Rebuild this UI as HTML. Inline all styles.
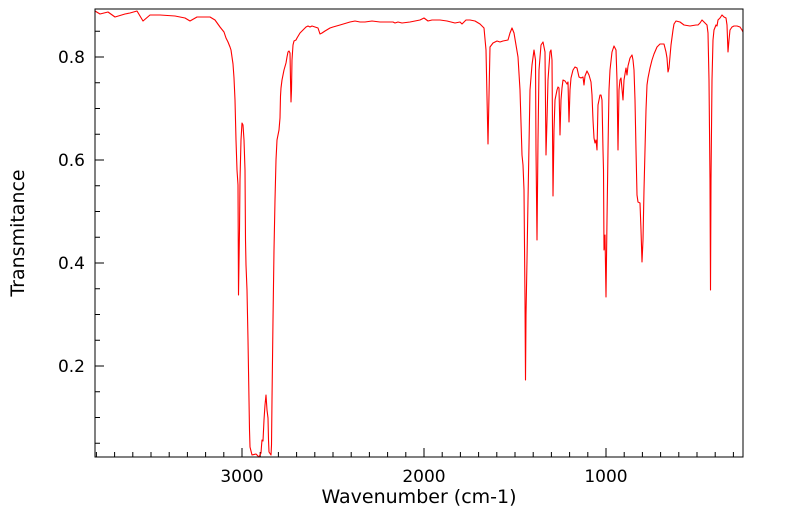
<!DOCTYPE html>
<html><head><meta charset="utf-8"><style>
html,body{margin:0;padding:0;background:#fff;}
svg{display:block;font-family:"DejaVu Sans","Liberation Sans",sans-serif;}
</style></head><body>
<svg width="799" height="516" viewBox="0 0 799 516" xmlns="http://www.w3.org/2000/svg">
<rect x="0" y="0" width="799" height="516" fill="#fff"/>
<g stroke="#000" stroke-width="1">
<path d="M96.4 457v-5M114.6 457v-5M132.8 457v-5M151 457v-5M169.2 457v-5M187.4 457v-5M205.6 457v-5M223.8 457v-5M242 457v-9M260.2 457v-5M278.4 457v-5M296.6 457v-5M314.8 457v-5M333 457v-5M351.2 457v-5M369.4 457v-5M387.6 457v-5M405.8 457v-5M424 457v-9M442.2 457v-5M460.4 457v-5M478.6 457v-5M496.8 457v-5M515 457v-5M533.2 457v-5M551.4 457v-5M569.6 457v-5M587.8 457v-5M606 457v-9M624.2 457v-5M642.4 457v-5M660.6 457v-5M678.8 457v-5M697 457v-5M715.2 457v-5M733.4 457v-5"/>
<path d="M95 443.3h5M95 417.5h5M95 391.8h5M95 366h9M95 340.3h5M95 314.5h5M95 288.8h5M95 263h9M95 237.3h5M95 211.5h5M95 185.8h5M95 160h9M95 134.3h5M95 108.5h5M95 82.8h5M95 57h9M95 31.3h5"/>
</g>
<polyline fill="none" stroke="#ff0000" stroke-width="1.1" stroke-linejoin="round" points="95,11 100,14 108,12 115,17 125,14 130,13 137,11 140,16 143,21 150,15 160,15 175,16 185,18 190,21 197,17 205,17 210,17 215,20 220,27 224,32 226,38 228,42 230,47 231,50 233,64 234,78 235,100 236,140 237,170 238,185 238.5,295 239.5,230 240,180 241,140 242,123 243,125 244,140 245,170 245.5,240 246,265 247,290 248,340 249,400 249.5,430 250,447 252,455 256,454 259,457 261,453 261.5,446 262,440 263,441 264,420 265,405 266,395 267,410 268,418 268.5,440 269,452 271,455 271.5,445 272,400 273,320 274,250 275,200 276,160 277,140 279,130 280,118 280.5,96 281,88 282,80 283,75 284,70 286,63 287,57 288,52 289,51 290,53 290.5,80 291,102 291.5,90 292,60 293,45 294,41 296,40 297,38 300,33 303,30 306,27 308,26 310,27 312,26 318,28 320,34 322,33 325,31 330,28 333,27 340,25 350,22 355,21 360,22 365,22 372,21 380,22 387,22 393,22 395,23 398,22 402,23 410,22 420,20 424,18 428,21 432,20 440,20 447,21 455,23 460,22 462,24 464,22 466,20 470,20 475,21 480,24 484,28 486,50 488,144 490,47 493,43 497,41 500,42 503,41 508,40 510,33 512,28 514,33 516,45 518,57 520,90 522,155 523,165 524,190 525,300 525.5,380 526,315 527,260 528,200 530,90 532,65 534,50 535.5,60 536,150 537,240 538,140 539,70 541,45 543,42 545,52 546,155 547,120 548,80 550,52 551,50 552,60 553,196 554,130 555,100 557,90 558,87 559,88 560,135 561,100 562,88 563,80 565,81 567,84 568,82 569,122 570,90 571,78 573,70 575,67 577,68 579,77 581,78 583,77 584,85 585,76 587,71 589,75 591,82 592,95 593,120 594,138 595,143 596,140 597,150 598,105 600,95 601,95 602,100 603,150 603.5,170 604,250 605,235 605.5,265 606,297 607,220 608,150 609,90 610,70 612,52 614,46 616,50 617,80 618,150 619,90 620,80 621,78 623,100 624,80 626,68 627,75 628,66 630,58 632,55 633,60 634,70 635,100 636,150 637,195 638,202 640,203 641,230 642,262 643,240 644,190 645,150 646,110 647,85 648,78 650,68 652,60 654,54 657,47 660,44 664,44 666,52 667,58 668,72 669,68 671,45 673,30 674,24 676,21 680,22 684,25 690,26 696,25 698,25 700,23 702,20 704,22 707,25 708,33 709,80 710,180 710.5,290 711,180 712,80 713,40 714,30 716,25 717,26 718,20 720,18 722,15 724,17 726,18 727,25 728,52 729,40 730,30 732,27 734,26 737,26 740,27 742,30 743,32"/>
<rect x="95" y="9" width="648" height="448" fill="none" stroke="#000" stroke-width="1"/>
<g font-size="17" fill="#000">
<text x="85" y="63" text-anchor="end">0.8</text>
<text x="85" y="166" text-anchor="end">0.6</text>
<text x="85" y="269" text-anchor="end">0.4</text>
<text x="85" y="372" text-anchor="end">0.2</text>
<text x="242" y="482" text-anchor="middle">3000</text>
<text x="424" y="482" text-anchor="middle">2000</text>
<text x="606" y="482" text-anchor="middle">1000</text>
<text x="419" y="503" text-anchor="middle" font-size="19">Wavenumber (cm-1)</text>
<text transform="translate(24,233) rotate(-90)" text-anchor="middle" font-size="19">Transmitance</text>
</g>
</svg>
</body></html>
